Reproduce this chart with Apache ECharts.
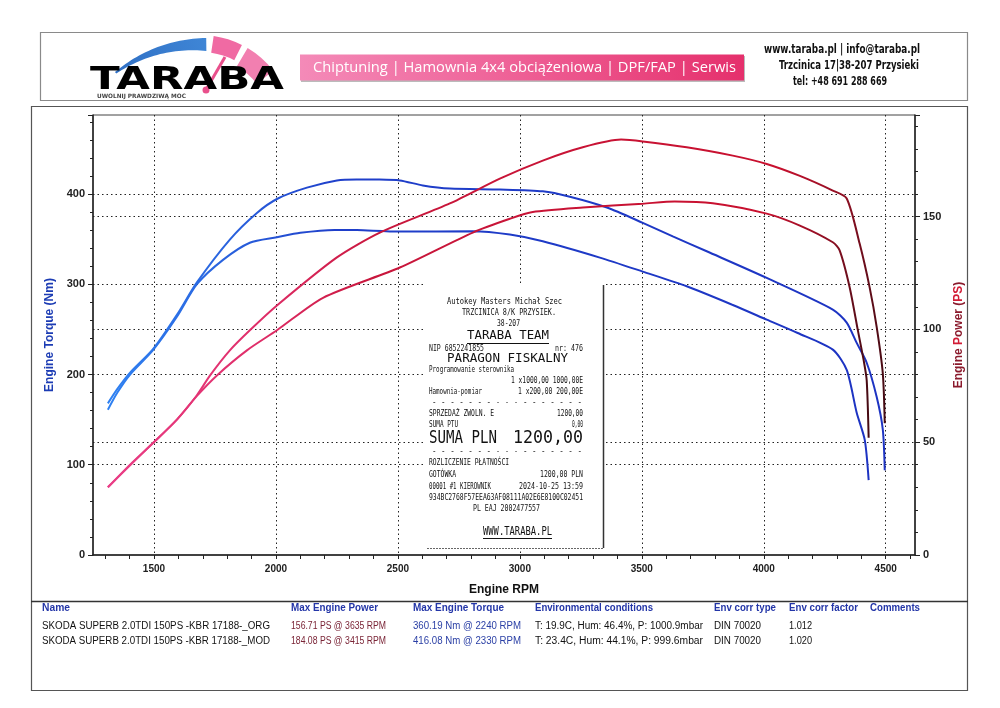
<!DOCTYPE html>
<html><head><meta charset="utf-8">
<script src="https://cdn.jsdelivr.net/npm/echarts@6/dist/echarts.min.js"></script>
<style>html,body{margin:0;padding:0;background:#fff}#c{width:1000px;height:708px}</style>
</head><body><div id="c"></div>
<script>
// ---------- DATA ----------
const orgTorqueRpm = [1311,1350,1402,1496,1594,1676,1783,1893,2004,2100,2240,2332,2508,2807,2959,3094,3328,3504,3684,3873,4012,4139,4283,4340,4381,4414,4430];
const orgTorqueNm  = [161,180,200,227,264,300,327,346,352,357,360.2,360,358.4,358.7,355,347.6,329.5,314,297.7,277,260.8,246,227.5,205,157.6,127.6,83];
const modTorqueRpm = [1311,1350,1402,1496,1594,1676,1811,1922,2008,2127,2250,2330,2414,2508,2602,2713,2918,3094,3205,3357,3504,3627,3766,4012,4283,4340,4381,4422,4463,4488,4496];
const modTorqueNm  = [168,184,202,228,266,302,349.5,379,395,407,415,416.1,416,415,409.5,406,405,403,397,385,368,353,336.5,307,272,257.5,235,213,175,139,94];
const orgPowerRpm  = [1311,1402,1496,1594,1676,1758,1881,2004,2193,2508,2807,2959,3053,3258,3504,3635,3791,4012,4148,4283,4311,4352,4385,4410,4422,4430];
const orgPowerPs   = [30,39.8,49.6,60,70.5,79.6,90.7,99.6,114,127.4,142.9,149,152,154,155.7,156.7,155.9,151.3,146,138.6,135,118.7,100,86,77.4,52];
const modPowerRpm  = [1311,1402,1496,1594,1676,1730,1811,1893,2004,2250,2426,2713,2918,3094,3258,3415,3504,3684,3873,4012,4148,4283,4340,4393,4434,4463,4488,4496];
const modPowerPs   = [30,40,49.6,60,70.8,79.6,90.7,99.6,110.6,131.9,142.9,155.8,166.8,174.8,180.7,184.1,183.3,180.7,177,173.3,168,161.5,158,138,118.6,101,80.5,58.4];

const xLabelValues = [1500,2000,2500,3000,3500,4000,4500];
const xTickValues = [1300,1400,1500,1600,1700,1800,1900,2000,2100,2200,2300,2400,2500,2600,2700,2800,2900,3000,3100,3200,3300,3400,3500,3600,3700,3800,3900,4000,4100,4200,4300,4400,4500,4600];
const torqueTicks = [0,100,200,300,400];
const powerTicks = [0,50,100,150];

const tableHeaders = ['Name','Max Engine Power','Max Engine Torque','Environmental conditions','Env corr type','Env corr factor','Comments'];
const tableRows = [
  ['SKODA SUPERB 2.0TDI 150PS -KBR 17188-_ORG','156.71 PS @ 3635 RPM','360.19 Nm @ 2240 RPM','T: 19.9C, Hum: 46.4%, P: 1000.9mbar','DIN 70020','1.012',''],
  ['SKODA SUPERB 2.0TDI 150PS -KBR 17188-_MOD','184.08 PS @ 3415 RPM','416.08 Nm @ 2330 RPM','T: 23.4C, Hum: 44.1%, P: 999.6mbar','DIN 70020','1.020','']
];
const receiptLines = {
  shop: 'Autokey Masters Michał Szec', addr: 'TRZCINICA 8/K PRZYSIEK.', zip: '38-207', team: 'TARABA TEAM',
  nip: 'NIP 6852241855', nr: 'nr: 476', title: 'PARAGON FISKALNY', item1: 'Programowanie sterownika',
  item1v: '1 x1000,00 1000,00E', item2: 'Hamownia-pomiar', item2v: '1 x200,00 200,00E',
  dash: '- - - - - - - - - - - - - - - - -', s1: 'SPRZEDAŻ ZWOLN. E', s1v: '1200,00', s2: 'SUMA PTU', s2v: '0,00',
  sum: 'SUMA PLN', sumv: '1200,00', pay: 'ROZLICZENIE PŁATNOŚCI', cash: 'GOTÓWKA', cashv: '1200,00 PLN',
  cashier: '00001 #1 KIEROWNIK', date: '2024-10-25 13:59', hash: '934BC2768F57EEA63AF08111A02E6E8100C02451',
  fisc: 'PL EAJ 2002477557', www: 'WWW.TARABA.PL'
};
const headerTexts = {
  banner: 'Chiptuning | Hamownia 4x4 obciążeniowa | DPF/FAP | Serwis',
  c1: 'www.taraba.pl | info@taraba.pl', c2: 'Trzcinica 17|38-207 Przysieki', c3: 'tel: +48 691 288 669',
  logo: 'TARABA', tag: 'UWOLNIJ PRAWDZIWĄ MOC'
};

// ---------- HELPERS ----------
const zip = (a, b) => a.map((v, i) => [v, b[i]]);
const mctx = document.createElement('canvas').getContext('2d');
function measure(s, font) { mctx.font = font; return mctx.measureText(s).width; }
const G = [];
function fitText(s, x1, x2, y, font, fill, align, extra) {
  const w = measure(s, font);
  const sx = (x2 - x1) / w;
  const ax = align === 'right' ? x2 : align === 'center' ? (x1 + x2) / 2 : x1;
  G.push(Object.assign({type: 'text', x: ax, y: y, scaleX: sx, z: 100,
    style: {text: s, font: font, fill: fill || '#111', align: align || 'left', verticalAlign: 'middle'}}, extra || {}));
}
function rect(x, y, w, h, style, z) { G.push({type: 'rect', z: z || 90, shape: {x, y, width: w, height: h}, style}); }
function line(x1, y1, x2, y2, style, z) { G.push({type: 'line', z: z || 95, shape: {x1, y1, x2, y2}, style}); }

// frames
rect(40.5, 32.5, 927, 68, {fill: 'none', stroke: '#8a8a8a', lineWidth: 1.2}, 1);
rect(31.5, 106.5, 936, 584, {fill: 'none', stroke: '#555', lineWidth: 1.2}, 1);
line(31, 601.5, 968, 601.5, {stroke: '#333', lineWidth: 1.5}, 1);

// logo arc
(function () {
  const cx = 208, cy = 182, R = 144, a0 = 4.01, a1 = 4.70;
  const outer = [], inner = [];
  for (let i = 0; i <= 30; i++) {
    const a = a0 + (a1 - a0) * i / 30;
    const t = 2 + 11 * i / 30;
    outer.push([cx + R * Math.cos(a), cy + R * Math.sin(a)]);
    inner.push([cx + (R - t) * Math.cos(a), cy + (R - t) * Math.sin(a)]);
  }
  G.push({type: 'polygon', z: 90, shape: {points: outer.concat(inner.reverse())},
    style: {fill: new echarts.graphic.LinearGradient(0, 1, 1, 0, [{offset: 0, color: '#2f6fc4'}, {offset: 1, color: '#3f86d6'}])}});
  G.push({type: 'sector', z: 90, shape: {cx: 200, cy: 128, r: 93, r0: 76, startAngle: 4.86, endAngle: 5.18}, style: {fill: '#f06aa3'}});
  G.push({type: 'sector', z: 90, shape: {cx: 200, cy: 128, r: 93, r0: 72, startAngle: 5.25, endAngle: 5.62}, style: {fill: '#f27fb0'}});
})();
fitText(headerTexts.logo, 90, 284, 81, 'bold 32px "DejaVu Sans"',
  new echarts.graphic.LinearGradient(0, 0, 0, 1, [{offset: 0, color: '#4a9ae6'}, {offset: 1, color: '#1f55b0'}]), 'left');
line(225, 57, 207, 88, {stroke: '#e9508c', lineWidth: 3});
G.push({type: 'circle', z: 96, shape: {cx: 206, cy: 90, r: 3.5}, style: {fill: '#e9508c'}});
fitText(headerTexts.tag, 97, 186, 96.5, 'bold 6px "DejaVu Sans"', '#444', 'left');

// banner
rect(301, 56, 444, 26, {fill: '#bbb'}, 88);
rect(300, 54.5, 444, 26, {fill: new echarts.graphic.LinearGradient(0, 0, 1, 0, [{offset: 0, color: '#f48ab8'}, {offset: 0.5, color: '#ee5f95'}, {offset: 1, color: '#e5306c'}])}, 89);
fitText(headerTexts.banner, 313, 736, 68, '15px "Open Sans"', '#fff', 'left');
fitText(headerTexts.c1, 764, 920, 50, 'bold 12px "Liberation Sans Narrow", "DejaVu Sans Condensed", sans-serif', '#111', 'left');
fitText(headerTexts.c2, 779, 919, 66, 'bold 12px "Liberation Sans Narrow", "DejaVu Sans Condensed", sans-serif', '#111', 'left');
fitText(headerTexts.c3, 793, 887, 82, 'bold 12px "Liberation Sans Narrow", "DejaVu Sans Condensed", sans-serif', '#111', 'left');

// receipt
rect(425, 284, 180, 265, {fill: '#fff'}, 90);
line(603.5, 285, 603.5, 548, {stroke: '#333', lineWidth: 1.5});
line(427, 548.5, 603, 548.5, {stroke: '#666', lineWidth: 1, lineDash: [2, 1]});
const RF = s => s + 'px "DejaVu Sans Mono"';
const R = receiptLines;
fitText(R.shop, 447, 562, 302, RF(8), '#111', 'center');
fitText(R.addr, 462, 556, 313, RF(8), '#111', 'center');
fitText(R.zip, 497, 520, 324, RF(8), '#111', 'center');
fitText(R.team, 467, 549, 336, RF(12), '#111', 'center');
line(467, 343.5, 549, 343.5, {stroke: '#111', lineWidth: 1.2});
fitText(R.nip, 429, 484, 348.5, RF(8), '#111', 'left');
fitText(R.nr, 555, 583, 348.5, RF(8), '#111', 'right');
fitText(R.title, 447, 568, 358.5, RF(13), '#111', 'center');
fitText(R.item1, 429, 514, 370, RF(8), '#111', 'left');
fitText(R.item1v, 511, 583, 381, RF(8), '#111', 'right');
fitText(R.item2, 429, 482, 392, RF(8), '#111', 'left');
fitText(R.item2v, 518, 583, 392, RF(8), '#111', 'right');
fitText(R.dash, 432, 582, 403, RF(8), '#111', 'left');
fitText(R.s1, 429, 494, 414, RF(8), '#111', 'left');
fitText(R.s1v, 557, 583, 414, RF(8), '#111', 'right');
fitText(R.s2, 429, 458, 425, RF(8), '#111', 'left');
fitText(R.s2v, 572, 583, 425, RF(8), '#111', 'right');
fitText(R.sum, 429, 497, 439, RF(17), '#111', 'left');
fitText(R.sumv, 513, 583, 439, RF(17), '#111', 'right');
fitText(R.dash, 432, 582, 452, RF(8), '#111', 'left');
fitText(R.pay, 429, 509, 463, RF(8), '#111', 'left');
fitText(R.cash, 429, 456, 475, RF(8), '#111', 'left');
fitText(R.cashv, 540, 583, 475, RF(8), '#111', 'right');
fitText(R.cashier, 429, 491, 487, RF(8), '#111', 'left');
fitText(R.date, 519, 583, 487, RF(8), '#111', 'right');
fitText(R.hash, 429, 583, 498, RF(8), '#111', 'left');
fitText(R.fisc, 473, 540, 509, RF(8), '#111', 'center');
fitText(R.www, 483, 552, 532, RF(12), '#111', 'center');
line(483, 538.5, 552, 538.5, {stroke: '#111', lineWidth: 1.2});

// table
const colX = [[42, 70], [291, 378], [413, 504], [535, 653], [714, 776], [789, 858], [870, 920]];
const rowX = [[42, 270], [291, 386], [413, 521], [535, 703], [714, 761], [789, 813], [870, 900]];
const HF = 'bold 10px "Liberation Sans", Arial, sans-serif';
const TF = '10px "Liberation Sans", Arial, sans-serif';
tableHeaders.forEach((h, i) => fitText(h, colX[i][0], colX[i][1], 608, HF, '#2436a8', 'left'));
const rowColors = ['#111', '#7a2436', '#2a3fa5', '#111', '#111', '#111', '#111'];
tableRows.forEach((r, ri) => r.forEach((c, i) => {
  if (!c) return;
  const x1 = rowX[i][0];
  const x2 = i === 5 ? x1 + measure(c, TF) * 0.92 : rowX[i][1];
  fitText(c, x1, x2, 626 + ri * 15, TF, rowColors[i], 'left');
}));

// ---------- CHART ----------
const chart = echarts.init(document.getElementById('c'), null, {renderer: 'canvas'});
const blueGrad = () => new echarts.graphic.LinearGradient(0, 0, 1, 0, [
  {offset: 0, color: '#2f82f2'}, {offset: 0.14, color: '#2a66e0'}, {offset: 0.3, color: '#1f3fca'}, {offset: 1, color: '#1d33c2'}]);
const redGrad = () => new echarts.graphic.LinearGradient(0, 0, 1, 0, [
  {offset: 0, color: '#ea3f88'}, {offset: 0.2, color: '#df2d68'}, {offset: 0.35, color: '#c8163c'},
  {offset: 0.86, color: '#c8102e'}, {offset: 0.95, color: '#8a0f22'}, {offset: 1, color: '#400a12'}]);
const dotted = {color: '#222', width: 1, type: [1.5, 3]};
const labelStyle = {color: '#222', fontSize: 11, fontWeight: 'bold', fontFamily: 'Arial, "Liberation Sans", sans-serif'};
const splitColors = ['rgba(0,0,0,0)', 'rgba(0,0,0,0)', 'rgba(0,0,0,0)', 'rgba(0,0,0,0)', 'rgba(0,0,0,0)', '#222', 'rgba(0,0,0,0)', 'rgba(0,0,0,0)', 'rgba(0,0,0,0)', 'rgba(0,0,0,0)'];

const mkSeries = (name, rpm, vals, yi, grad) => ({
  name, type: 'line', xAxisIndex: 0, yAxisIndex: yi, data: zip(rpm, vals),
  showSymbol: false, symbol: 'none', smooth: 0.25, z: 5,
  lineStyle: {width: 2, color: grad()}
});

chart.setOption({
  animation: false,
  backgroundColor: '#fff',
  grid: {left: 93, right: 85, top: 115, bottom: 153, show: true, borderColor: '#444', borderWidth: 1, backgroundColor: 'transparent'},
  xAxis: [{
    type: 'value', min: 1250, max: 4620, interval: 50,
    name: 'Engine RPM', nameLocation: 'middle', nameGap: 29,
    nameTextStyle: {color: '#111', fontSize: 12, fontWeight: 'bold', fontFamily: 'Arial, "Liberation Sans", sans-serif'},
    axisLine: {show: true, lineStyle: {color: '#222', width: 1.5}},
    axisTick: {show: true, customValues: xTickValues, length: 4, lineStyle: {color: '#222'}},
    axisLabel: {customValues: xLabelValues, margin: 9, fontSize: 10, color: '#222', fontWeight: 'bold',
      fontFamily: labelStyle.fontFamily, formatter: v => (xLabelValues.indexOf(v) >= 0 ? String(v) : '')},
    splitLine: {show: false}
  }, {
    type: 'value', min: 1250, max: 4620, interval: 50, position: 'top',
    axisLine: {show: false}, axisTick: {show: false}, axisLabel: {show: false},
    splitLine: {show: true, showMinLine: true, lineStyle: {color: splitColors, width: 1, type: [1.5, 3]}}
  }],
  yAxis: [{
    type: 'value', min: 0, max: 487.5, interval: 100, position: 'left',
    name: 'Engine Torque (Nm)', nameLocation: 'middle', nameGap: 37,
    nameTextStyle: {color: '#1c3cb4', fontSize: 12, fontWeight: 'bold', fontFamily: 'Arial, "Liberation Sans", sans-serif'},
    axisLine: {show: true, lineStyle: {color: '#222', width: 1.5}},
    axisTick: {show: true, length: 5, lineStyle: {color: '#222'}},
    minorTick: {show: true, splitNumber: 5, length: 3, lineStyle: {color: '#222'}},
    axisLabel: Object.assign({margin: 8, showMaxLabel: false, formatter: v => (torqueTicks.indexOf(v) >= 0 ? String(v) : '')}, labelStyle),
    splitLine: {show: true, showMinLine: false, showMaxLine: false, lineStyle: dotted}
  }, {
    type: 'value', min: 0, max: 195, interval: 50, position: 'right',
    name: '{a|Engine }{b|P}{a|ower (}{b|PS}{a|)}', nameLocation: 'middle', nameGap: 36,
    nameTextStyle: {rich: {
      a: {color: '#8a1a2c', fontSize: 12, fontWeight: 'bold', fontFamily: 'Arial, "Liberation Sans", sans-serif'},
      b: {color: '#d21c36', fontSize: 12, fontWeight: 'bold', fontFamily: 'Arial, "Liberation Sans", sans-serif'}}},
    axisLine: {show: true, lineStyle: {color: '#222', width: 1.5}},
    axisTick: {show: true, length: 5, lineStyle: {color: '#222'}},
    minorTick: {show: true, splitNumber: 5, length: 3, lineStyle: {color: '#222'}},
    axisLabel: Object.assign({margin: 8, showMaxLabel: false, formatter: v => (powerTicks.indexOf(v) >= 0 ? String(v) : '')}, labelStyle),
    splitLine: {show: true, showMinLine: false, showMaxLine: false, lineStyle: dotted}
  }],
  series: [
    mkSeries('Torque ORG', orgTorqueRpm, orgTorqueNm, 0, blueGrad),
    mkSeries('Torque MOD', modTorqueRpm, modTorqueNm, 0, blueGrad),
    mkSeries('Power ORG', orgPowerRpm, orgPowerPs, 1, redGrad),
    mkSeries('Power MOD', modPowerRpm, modPowerPs, 1, redGrad)
  ],
  graphic: {elements: G}
});
</script>
</body></html>
